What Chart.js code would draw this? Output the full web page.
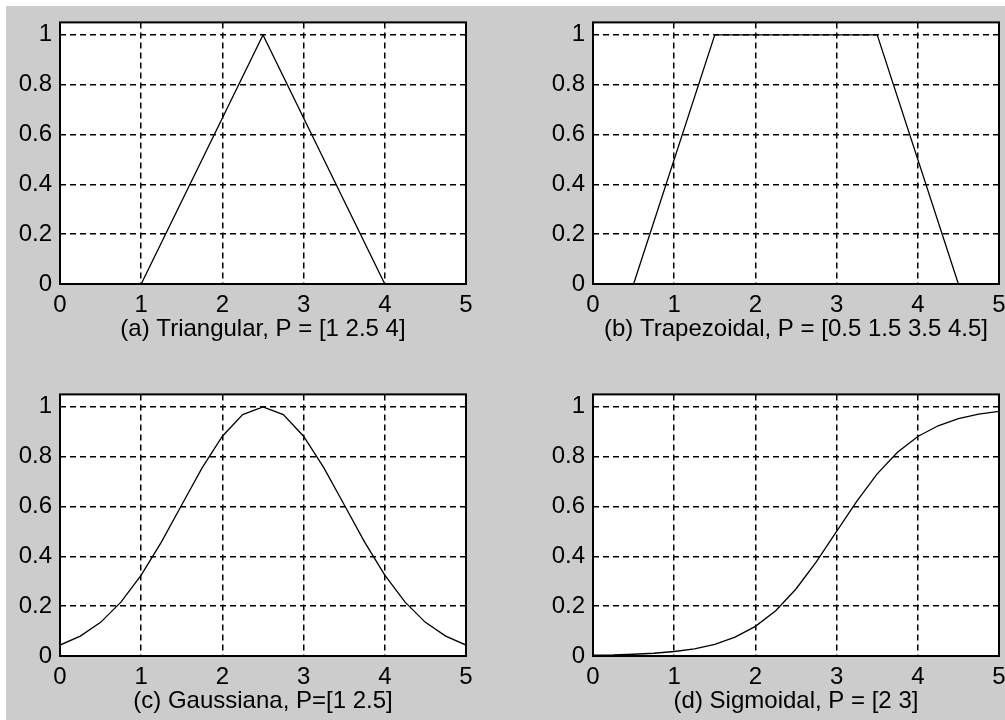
<!DOCTYPE html>
<html>
<head>
<meta charset="utf-8">
<script src="https://cdn.jsdelivr.net/npm/chart.js@4.4.1/dist/chart.umd.min.js"></script>
<style>
  html, body { margin: 0; padding: 0; width: 1005px; height: 720px; overflow: hidden; background: #fff; }
  #fig { position: absolute; left: 6px; top: 6px; width: 999px; height: 714px; background: #cccccc; }
  canvas { position: absolute; }
</style>
</head>
<body>
<div id="fig"></div>
<canvas id="triangular" width="490" height="345" style="left:0px;top:0px"></canvas>
<canvas id="trapezoidal" width="490" height="345" style="left:533px;top:0px"></canvas>
<canvas id="gaussiana" width="490" height="345" style="left:0px;top:372px"></canvas>
<canvas id="sigmoidal" width="490" height="345" style="left:533px;top:372px"></canvas>
<script>
// valores
const xTri = [0, 1, 2.5, 4, 5];
const yTri = [0, 0, 1, 0, 0];

const xTrap = [0, 0.5, 1.5, 3.5, 4.5, 5];
const yTrap = [0, 0, 1, 1, 0, 0];

const xCurva = [0, 0.25, 0.5, 0.75, 1, 1.25, 1.5, 1.75, 2, 2.25, 2.5,
                2.75, 3, 3.25, 3.5, 3.75, 4, 4.25, 4.5, 4.75, 5];
const yGauss = [0.044, 0.08, 0.135, 0.216, 0.325, 0.458, 0.607, 0.755, 0.882, 0.969, 1,
                0.969, 0.882, 0.755, 0.607, 0.458, 0.325, 0.216, 0.135, 0.08, 0.044];
const ySigm = [0.003, 0.004, 0.007, 0.011, 0.018, 0.029, 0.047, 0.076, 0.119, 0.182, 0.269,
               0.378, 0.5, 0.622, 0.731, 0.818, 0.881, 0.924, 0.953, 0.971, 0.982];

const xTicks = [0, 1, 2, 3, 4, 5];
const yTicks = [0, 0.2, 0.4, 0.6, 0.8, 1];
const yTickLabels = ['0', '0.2', '0.4', '0.6', '0.8', '1'];

const titulos = [
  '(a) Triangular, P = [1 2.5 4]',
  '(b) Trapezoidal, P = [0.5 1.5 3.5 4.5]',
  '(c) Gaussiana, P=[1 2.5]',
  '(d) Sigmoidal, P = [2 3]'
];

Chart.defaults.font.family = '"Liberation Sans", Arial, sans-serif';
Chart.defaults.font.size = 24;
Chart.defaults.color = '#000';

const marco = {
  id: 'marco',
  beforeDraw(chart) {
    const { ctx, chartArea: a } = chart;
    ctx.save();
    ctx.fillStyle = '#fff';
    ctx.fillRect(a.left, a.top, a.width, a.height);
    ctx.restore();
  },
  afterDraw(chart) {
    const { ctx, chartArea: a } = chart;
    ctx.save();
    ctx.strokeStyle = '#000';
    ctx.lineWidth = 2;
    ctx.strokeRect(a.left, a.top, a.width, a.height);
    ctx.restore();
  }
};

function dibujar(id, xs, ys, titulo) {
  new Chart(document.getElementById(id), {
    type: 'scatter',
    data: {
      datasets: [{
        data: xs.map((x, i) => ({ x: x, y: ys[i] })),
        showLine: true,
        borderColor: '#000',
        borderWidth: 1.3,
        pointRadius: 0,
        tension: 0
      }]
    },
    options: {
      responsive: false,
      animation: false,
      events: [],
      layout: { padding: { top: 15, right: 24, bottom: 0, left: 0 } },
      plugins: { legend: { display: false }, tooltip: { enabled: false } },
      scales: {
        x: {
          type: 'linear',
          min: 0,
          max: 5,
          afterBuildTicks: s => { s.ticks = xTicks.map(v => ({ value: v })); },
          afterFit: s => { s.height = 61; },
          ticks: { padding: 7, maxRotation: 0, callback: v => String(v) },
          grid: { color: '#000', lineWidth: 1.5, drawTicks: false },
          border: { display: false, dash: [6, 4] },
          title: { display: true, text: titulo, padding: { top: 0, bottom: 1 } }
        },
        y: {
          min: 0,
          max: 1.05,
          afterBuildTicks: s => { s.ticks = yTicks.map(v => ({ value: v })); },
          afterFit: s => { s.width = 60; },
          ticks: { padding: 8, callback: (v, i) => yTickLabels[i] },
          grid: { color: '#000', lineWidth: 1.5, drawTicks: false },
          border: { display: false, dash: [6, 4] }
        }
      }
    },
    plugins: [marco]
  });
}

dibujar('triangular', xTri, yTri, titulos[0]);
dibujar('trapezoidal', xTrap, yTrap, titulos[1]);
dibujar('gaussiana', xCurva, yGauss, titulos[2]);
dibujar('sigmoidal', xCurva, ySigm, titulos[3]);
</script>
</body>
</html>
